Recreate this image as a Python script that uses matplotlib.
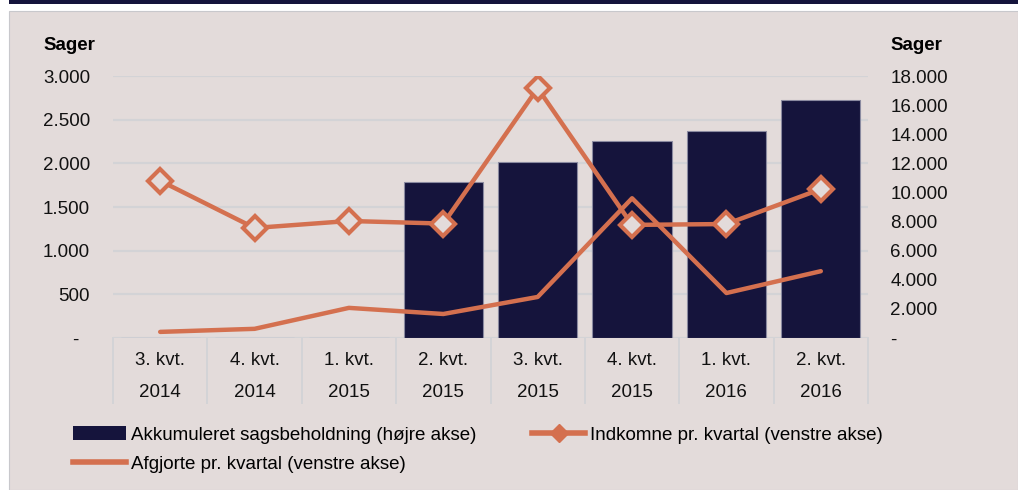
import numpy as np
import matplotlib.pyplot as plt
from matplotlib.lines import Line2D
from matplotlib.patches import Rectangle

plt.rcParams['font.family'] = ['Liberation Sans', 'DejaVu Sans']

kvartaler = ["3. kvt.", "4. kvt.", "1. kvt.", "2. kvt.", "3. kvt.", "4. kvt.", "1. kvt.", "2. kvt."]
aar = ["2014", "2014", "2015", "2015", "2015", "2015", "2016", "2016"]
beholdning = [0, 0, 0, 10730, 12060, 13530, 14220, 16350]
indkomne = [1800, 1260, 1340, 1310, 2860, 1295, 1305, 1705]
afgjorte = [70, 105, 345, 275, 470, 1600, 515, 765]

bg = '#e3dbda'
navy = '#15143c'
orange = '#d4704f'
grid_c = '#d3d3d6'
fs = 13.5


def fmt(v):
    if v == 0:
        return "-"
    return "{:,.0f}".format(v).replace(",", ".")


fig = plt.figure(figsize=(10.18, 4.9), dpi=100)
fig.patch.set_facecolor('white')
fig.patches.append(Rectangle((9/1018, 0), 1 - 9/1018, 1 - 11/490, transform=fig.transFigure,
                             facecolor=bg, edgecolor='#c8c8cc', lw=0.8, zorder=-10))
fig.patches.append(Rectangle((9/1018, 1 - 4/490), 1 - 9/1018, 4/490, transform=fig.transFigure,
                             facecolor=navy, edgecolor='none', zorder=-10))

ax = fig.add_axes([113/1018, 1 - 338/490, 755/1018, 262/490])
ax2 = ax.twinx()
ax.set_zorder(ax2.get_zorder() + 1)
ax.patch.set_visible(False)
ax2.patch.set_visible(False)

x = np.arange(len(kvartaler))

# bars on right axis
for g in range(0, 3001, 500):
    ax2.axhline(g * 6, color=grid_c, lw=1.6, zorder=0)
ax2.bar(x, beholdning, width=0.84, color=navy, edgecolor='#8a8aa0', lw=0.8, zorder=2)
ax2.set_ylim(0, 18000)
ax2.set_yticks(range(0, 18001, 2000))
ax2.set_yticklabels([fmt(v) for v in range(0, 18001, 2000)])

# lines on left axis
ax.plot(x, afgjorte, color=orange, lw=3.2, solid_capstyle='round', zorder=3)
ax.plot(x, indkomne, color=orange, lw=3.2, marker='D', ms=12, mfc=bg, mec=orange, mew=3,
        zorder=4)
ax.set_ylim(0, 3000)
ax.set_xlim(-0.5, len(x) - 0.5)
ax.set_yticks(range(0, 3001, 500))
ax.set_yticklabels([fmt(v) + ("  " if v == 0 else "") for v in range(0, 3001, 500)])
ax.set_xticks([])

for a in (ax, ax2):
    for s in a.spines.values():
        s.set_visible(False)
    a.tick_params(axis='y', length=0, labelsize=fs, colors='#111111')
ax.tick_params(axis='y', pad=16.5)
ax2.tick_params(axis='y', pad=16)

# category table under the axis
sep_y = -(403 - 338) / 262
for b in np.arange(-0.5, len(x), 1.0):
    ax.add_line(Line2D([b, b], [0, sep_y], transform=ax.get_xaxis_transform(),
                       color=grid_c, lw=1.4, clip_on=False))
for i in x:
    ax.text(i, -(360 - 338) / 262, kvartaler[i], transform=ax.get_xaxis_transform(),
            ha='center', va='center', fontsize=fs, color='#111111')
    ax.text(i, -(392 - 338) / 262, aar[i], transform=ax.get_xaxis_transform(),
            ha='center', va='center', fontsize=fs, color='#111111')

fig.text(43/1018, 1 - 45/490, "Sager", fontsize=fs, fontweight='bold', ha='left', va='center')
fig.text(890/1018, 1 - 45/490, "Sager", fontsize=fs, fontweight='bold', ha='left', va='center')

h_bar = Rectangle((0, 0), 1, 1, facecolor=navy, edgecolor='none')
h_afg = Line2D([], [], color=orange, lw=4)
h_ind = Line2D([], [], color=orange, lw=4, marker='D', ms=9, mfc=orange, mec=orange)
fig.legend([h_bar, h_afg, h_ind],
           ["Akkumuleret sagsbeholdning (højre akse)", "Afgjorte pr. kvartal (venstre akse)",
            "Indkomne pr. kvartal (venstre akse)"],
           loc='upper left', bbox_to_anchor=(73/1018, 1 - 426/490), ncol=2, frameon=False,
           fontsize=fs, handlelength=2.8, handletextpad=0.28, columnspacing=3.0,
           labelspacing=0.6, borderpad=0, borderaxespad=0, handleheight=0.8)

fig.savefig("out.png", dpi=100, facecolor=fig.get_facecolor())
